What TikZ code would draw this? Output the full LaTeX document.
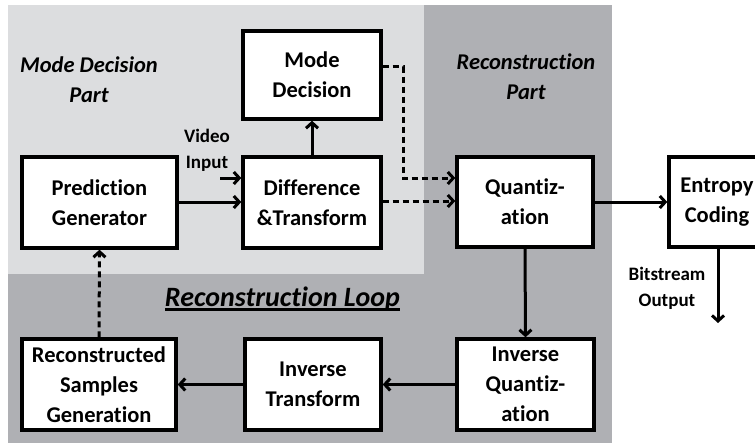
\documentclass[tikz,border=0pt]{standalone}
\usepackage{fontspec}
\setmainfont{Carlito}[Ligatures={NoCommon,NoContextual}]
\usetikzlibrary{arrows.meta}
\definecolor{lightbg}{RGB}{220,221,223}
\definecolor{darkbg}{RGB}{175,176,180}
\begin{document}
\begin{tikzpicture}[x=1pt,y=-1pt,
  blk/.style={draw=black, fill=white, line width=3.4pt, inner sep=0pt, align=center,
    font=\bfseries\fontsize{22.5}{30}\selectfont},
  lbl/.style={align=center, font=\bfseries\itshape\fontsize{22.5}{30}\selectfont},
  small/.style={align=center, font=\bfseries\fontsize{19}{26}\selectfont},
  conn/.style={line width=3pt, -{Straight Barb[length=5.5pt,width=12pt]}},
  dconn/.style={conn, dash pattern=on 6pt off 4pt}]
\useasboundingbox (0,0) rectangle (755,444);
\clip (0,0) rectangle (755,444);
% backgrounds
\fill[darkbg] (8,5) rectangle (612,443);
\fill[lightbg] (8,5) rectangle (424,274);
% boxes
\node[blk, minimum width=138pt, minimum height=88pt] (md) at (312,75) {Mode\\Decision};
\node[blk, minimum width=155pt, minimum height=91pt] (pg) at (99.5,202.5) {Prediction\\Generator};
\node[blk, minimum width=138pt, minimum height=91pt] (dt) at (312,202.5) {Difference\\\&Transform};
\node[blk, minimum width=136pt, minimum height=90pt] (q) at (525,202) {Quantiz-\\ation};
\node[blk, minimum width=96pt, minimum height=90pt] (ec) at (717,202) {Entropy\\Coding};
\node[blk, minimum width=154pt, minimum height=91pt] (rs) at (99,384.5) {Reconstructed\\Samples\\Generation};
\node[blk, minimum width=136pt, minimum height=91pt] (it) at (313,384.5) {Inverse\\Transform};
\node[blk, minimum width=137pt, minimum height=91pt] (iq) at (525.5,384.5) {Inverse\\Quantiz-\\ation};
% labels
\node[lbl] (mdp) at (89,80) {Mode Decision\\Part};
\node[lbl] (rcp) at (526,77) {Reconstruction\\Part};
\node[small] (vi) at (207,150) {Video\\Input};
\node[small] (bo) at (667,288) {Bitstream\\Output};
\node[anchor=base, font=\bfseries\itshape\fontsize{28}{32}\selectfont, inner sep=0pt] (loop) at (282.5,306) {Reconstruction Loop};
\draw[line width=2.4pt] ([yshift=-3.5pt]loop.base west) -- ([yshift=-3.5pt]loop.base east);
% coordinates
\coordinate (vin) at (220,178);
\coordinate (bout) at (718,323);
% connectors
\draw[conn] (vin) -- (vin -| dt.west);
\draw[conn] (pg.east |- 0,202) -- (dt.west |- 0,202);
\draw[conn] (dt.north) -- (md.south);
\draw[dconn] (md.east |- 0,67) -- (403,67) -- (403,178) -- (q.west |- 0,178);
\draw[dconn] (dt.east |- 0,201) -- (q.west |- 0,201);
\draw[conn] (q.east |- 0,202) -- (ec.west |- 0,202);
\draw[conn] (q.south) -- (iq.north);
\draw[conn] (ec.south -| bout) -- (bout);
\draw[conn] (iq.west) -- (it.east);
\draw[conn] (it.west) -- (rs.east);
\draw[dconn] (rs.north) -- (pg.south);
\end{tikzpicture}
\end{document}
